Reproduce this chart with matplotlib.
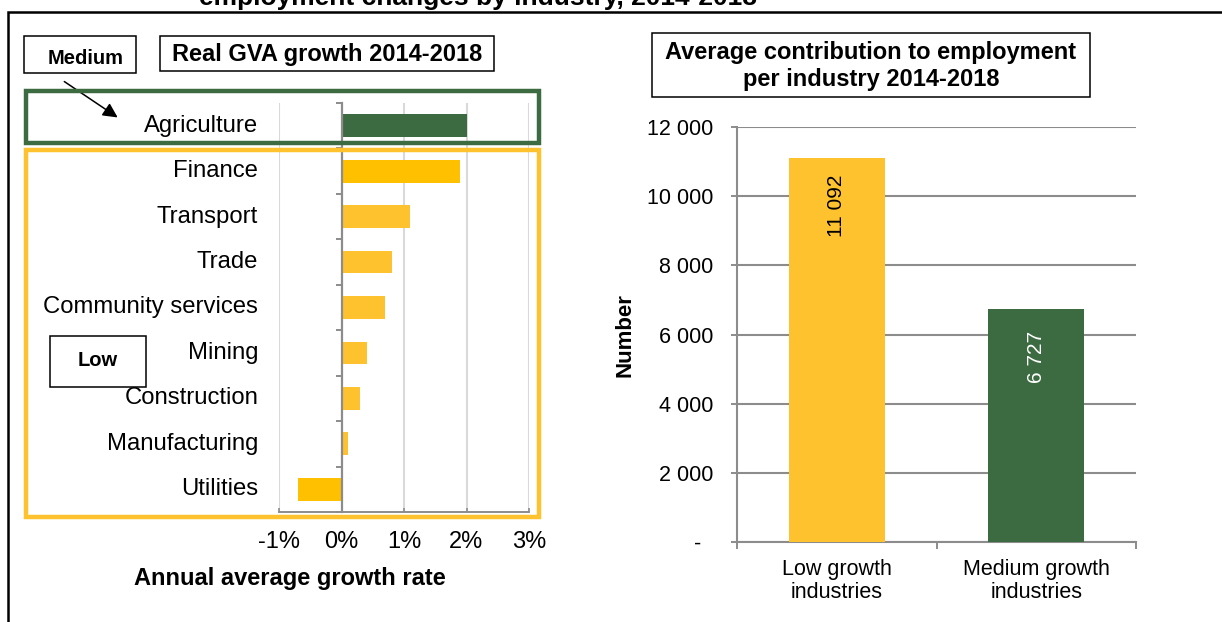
import matplotlib
matplotlib.use('Agg')
import matplotlib.pyplot as plt
from matplotlib.patches import Rectangle, FancyArrowPatch
from matplotlib.ticker import FixedLocator
from matplotlib.transforms import ScaledTranslation

# Data
industries = ['Agriculture', 'Finance', 'Transport', 'Trade', 'Community services',
              'Mining', 'Construction', 'Manufacturing', 'Utilities']
gva_growth = [2.0, 1.9, 1.1, 0.8, 0.7, 0.4, 0.3, 0.1, -0.7]
bar_colors = ['#3D6B41', '#FFC000', '#FEC22E', '#FEC22E', '#FEC22E',
              '#FEC22E', '#FEC22E', '#FEC22E', '#FFC000']

groups = ['Low growth\nindustries', 'Medium growth\nindustries']
contrib = [11092, 6727]
group_colors = ['#FEC22E', '#3D6B41']
label_colors = ['black', 'white']

x_ticks = [-1, 0, 1, 2, 3]
y_ticks = [0, 2000, 4000, 6000, 8000, 10000, 12000]

plt.rcParams['font.family'] = ['Liberation Sans', 'DejaVu Sans']

W, H = 1222, 622
fig = plt.figure(figsize=(W / 100, H / 100), dpi=100)


def fx(x):
    return x / W


def fy(y):
    return 1 - y / H


def box(x0, y0, x1, y1, color='black', lw=1.1, z=5):
    r = Rectangle((fx(x0), fy(y1)), fx(x1) - fx(x0), fy(y0) - fy(y1),
                  transform=fig.transFigure, fill=False, edgecolor=color,
                  linewidth=lw, zorder=z)
    fig.add_artist(r)


grey = '#8C8C8C'
light = '#D9D9D9'

# Left panel: real GVA growth
ax1 = fig.add_axes([fx(279), fy(512), fx(529) - fx(279), fy(103) - fy(512)])
ypos = list(range(len(industries)))
ax1.barh(ypos, gva_growth, height=0.5, color=bar_colors, zorder=3)
ax1.set_xlim(-1, 3)
ax1.set_ylim(len(industries) - 0.5, -0.5)
ax1.set_xticks(x_ticks)
ax1.set_xticklabels(['%d%%' % v for v in x_ticks], fontsize=17)
for v in x_ticks:
    if v != 0:
        ax1.axvline(v, color=light, linewidth=1.5, zorder=1)
ax1.spines['top'].set_visible(False)
ax1.spines['right'].set_visible(False)
ax1.spines['left'].set_position(('data', 0))
ax1.spines['left'].set_color(grey)
ax1.spines['left'].set_linewidth(1.6)
ax1.spines['left'].set_zorder(4)
ax1.spines['bottom'].set_color(grey)
ax1.spines['bottom'].set_linewidth(1.4)
ax1.set_yticks(ypos)
ax1.set_yticklabels(industries, fontsize=17.2)
ax1.yaxis.set_minor_locator(FixedLocator([i - 0.5 for i in range(len(industries) + 1)]))
ax1.tick_params(axis='y', which='major', length=0, pad=60)
ax1.tick_params(axis='y', which='minor', length=4, width=1.4, color=grey)
ax1.tick_params(axis='x', which='major', length=3, width=1.2, color=grey,
                direction='in', pad=14)
shift_up = ScaledTranslation(0, 2.5 / 100, fig.dpi_scale_trans)
for lab in ax1.get_yticklabels():
    lab.set_transform(lab.get_transform() + shift_up)

fig.text(fx(290), fy(578), 'Annual average growth rate', fontsize=17,
         fontweight='bold', ha='center', va='center')

# Right panel: contribution to employment
ax2 = fig.add_axes([fx(737), fy(542), fx(1136) - fx(737), fy(127) - fy(542)])
xpos = list(range(len(groups)))
bars = ax2.bar(xpos, contrib, width=0.48, color=group_colors, zorder=3)
ax2.set_xlim(-0.5, len(groups) - 0.5)
ax2.set_ylim(0, 12000)
ax2.set_yticks(y_ticks)
ax2.set_yticklabels(['-  ' if v == 0 else '{:,}'.format(v).replace(',', ' ')
                     for v in y_ticks], fontsize=15.5)
ax2.yaxis.grid(True, color=grey, linewidth=1.5, zorder=1)
ax2.set_axisbelow(True)
ax2.set_xticks(xpos)
ax2.set_xticklabels(groups, fontsize=15.5, linespacing=1.15)
ax2.xaxis.set_minor_locator(FixedLocator([-0.5, 0.5, 1.5]))
ax2.tick_params(axis='x', which='major', length=0, pad=12)
ax2.tick_params(axis='x', which='minor', length=5, width=1.4, color=grey)
ax2.tick_params(axis='y', length=4, width=1.4, color=grey, pad=13)
for s in ['top', 'right']:
    ax2.spines[s].set_visible(False)
for s in ['left', 'bottom']:
    ax2.spines[s].set_color(grey)
    ax2.spines[s].set_linewidth(1.5)
for b, v, c in zip(bars, contrib, label_colors):
    ax2.annotate('{:,}'.format(v).replace(',', ' '),
                 (b.get_x() + b.get_width() / 2, v), xytext=(0, -34),
                 textcoords='offset points', rotation=90, ha='center',
                 va='center', fontsize=15, color=c, zorder=5)

fig.text(fx(625), fy(335), 'Number', rotation=90, fontsize=16,
         fontweight='bold', ha='center', va='center')

# Titles and annotation boxes
fig.text(fx(478), fy(4.5), 'employment changes by industry, 2014-2018',
         fontsize=19, fontweight='bold', ha='center', va='baseline')

box(160, 36, 494, 71)
fig.text(fx(327), fy(54), 'Real GVA growth 2014-2018', fontsize=17,
         fontweight='bold', ha='center', va='center')

box(652, 33, 1090, 97)
fig.text(fx(871), fy(66), 'Average contribution to employment\nper industry 2014-2018',
         fontsize=17, fontweight='bold', ha='center', va='center',
         linespacing=1.24)

box(24, 36, 136, 73)
fig.text(fx(86), fy(58), 'Medium', fontsize=14.5, fontweight='bold',
         ha='center', va='center')

box(50, 336, 146, 387)
fig.text(fx(98), fy(361), 'Low', fontsize=14.5, fontweight='bold',
         ha='center', va='center')

arrow = FancyArrowPatch((fx(62), fy(80)), (fx(120), fy(119)),
                        transform=fig.transFigure, arrowstyle='-|>',
                        mutation_scale=22, linewidth=1.1, color='black')
fig.add_artist(arrow)

# Group outlines
box(26, 91, 539, 143, color='#3D6B41', lw=3.2, z=6)
box(26, 150, 539, 517, color='#FEC22E', lw=3.2, z=6)

# Outer frame
frame = Rectangle((fx(8), -0.2), 1.2, fy(12) + 0.2, transform=fig.transFigure,
                  fill=False, edgecolor='black', linewidth=1.8, zorder=7)
fig.add_artist(frame)

fig.savefig('out.png', dpi=100)
